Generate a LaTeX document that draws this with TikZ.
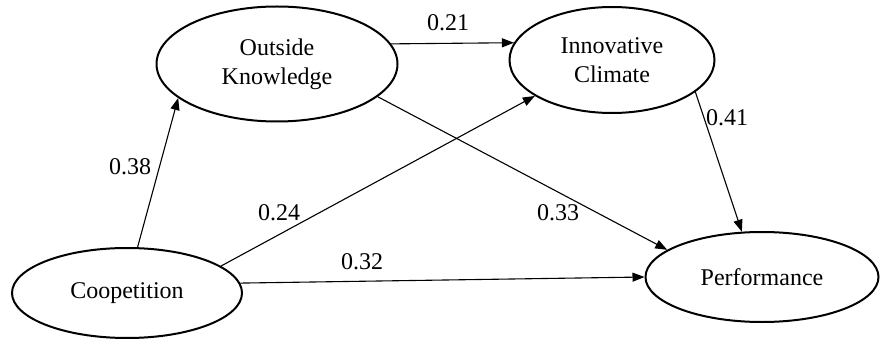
\documentclass[tikz,border=0pt]{standalone}
\usepackage{fontspec}
\setmainfont{Liberation Serif}
\usetikzlibrary{shapes.geometric,arrows.meta}
\begin{document}
\begin{tikzpicture}[x=1pt,y=-1pt,
  every node/.style={font=\fontsize{24}{29}\selectfont},
  latent/.style={ellipse,draw,line width=2pt,inner sep=0pt,align=center},
  path/.style={line width=1.1pt,-{Triangle[length=12pt,width=9pt]}},
  coef/.style={inner sep=0pt}]
\useasboundingbox (0,0) rectangle (880,339);
\node[latent,minimum width=241pt,minimum height=115pt] (ok) at (277,64) {Outside\\Knowledge};
\node[latent,minimum width=205pt,minimum height=106pt] (ic) at (612,60) {Innovative\\Climate};
\node[latent,minimum width=230pt,minimum height=90pt] (co) at (127,293) {Coopetition};
\node[latent,minimum width=233pt,minimum height=90pt] (pf) at (762,277) {Performance};
\draw[path] (co.77) -- (ok.199);
\draw[path] (ok.10) -- (ic.170);
\draw[path] (co.16) -- (ic.205);
\draw[path] (co.5) -- (pf.180);
\draw[path] (ok.342) -- (pf.164);
\draw[path] (ic.339) -- (pf.114);
\node[coef] (l21) at (448,23) {0.21};
\node[coef] (l38) at (130,167) {0.38};
\node[coef] (l24) at (279,213) {0.24};
\node[coef] (l32) at (362,262) {0.32};
\node[coef] (l33) at (558,213) {0.33};
\node[coef] (l41) at (727,118) {0.41};
\end{tikzpicture}
\end{document}
